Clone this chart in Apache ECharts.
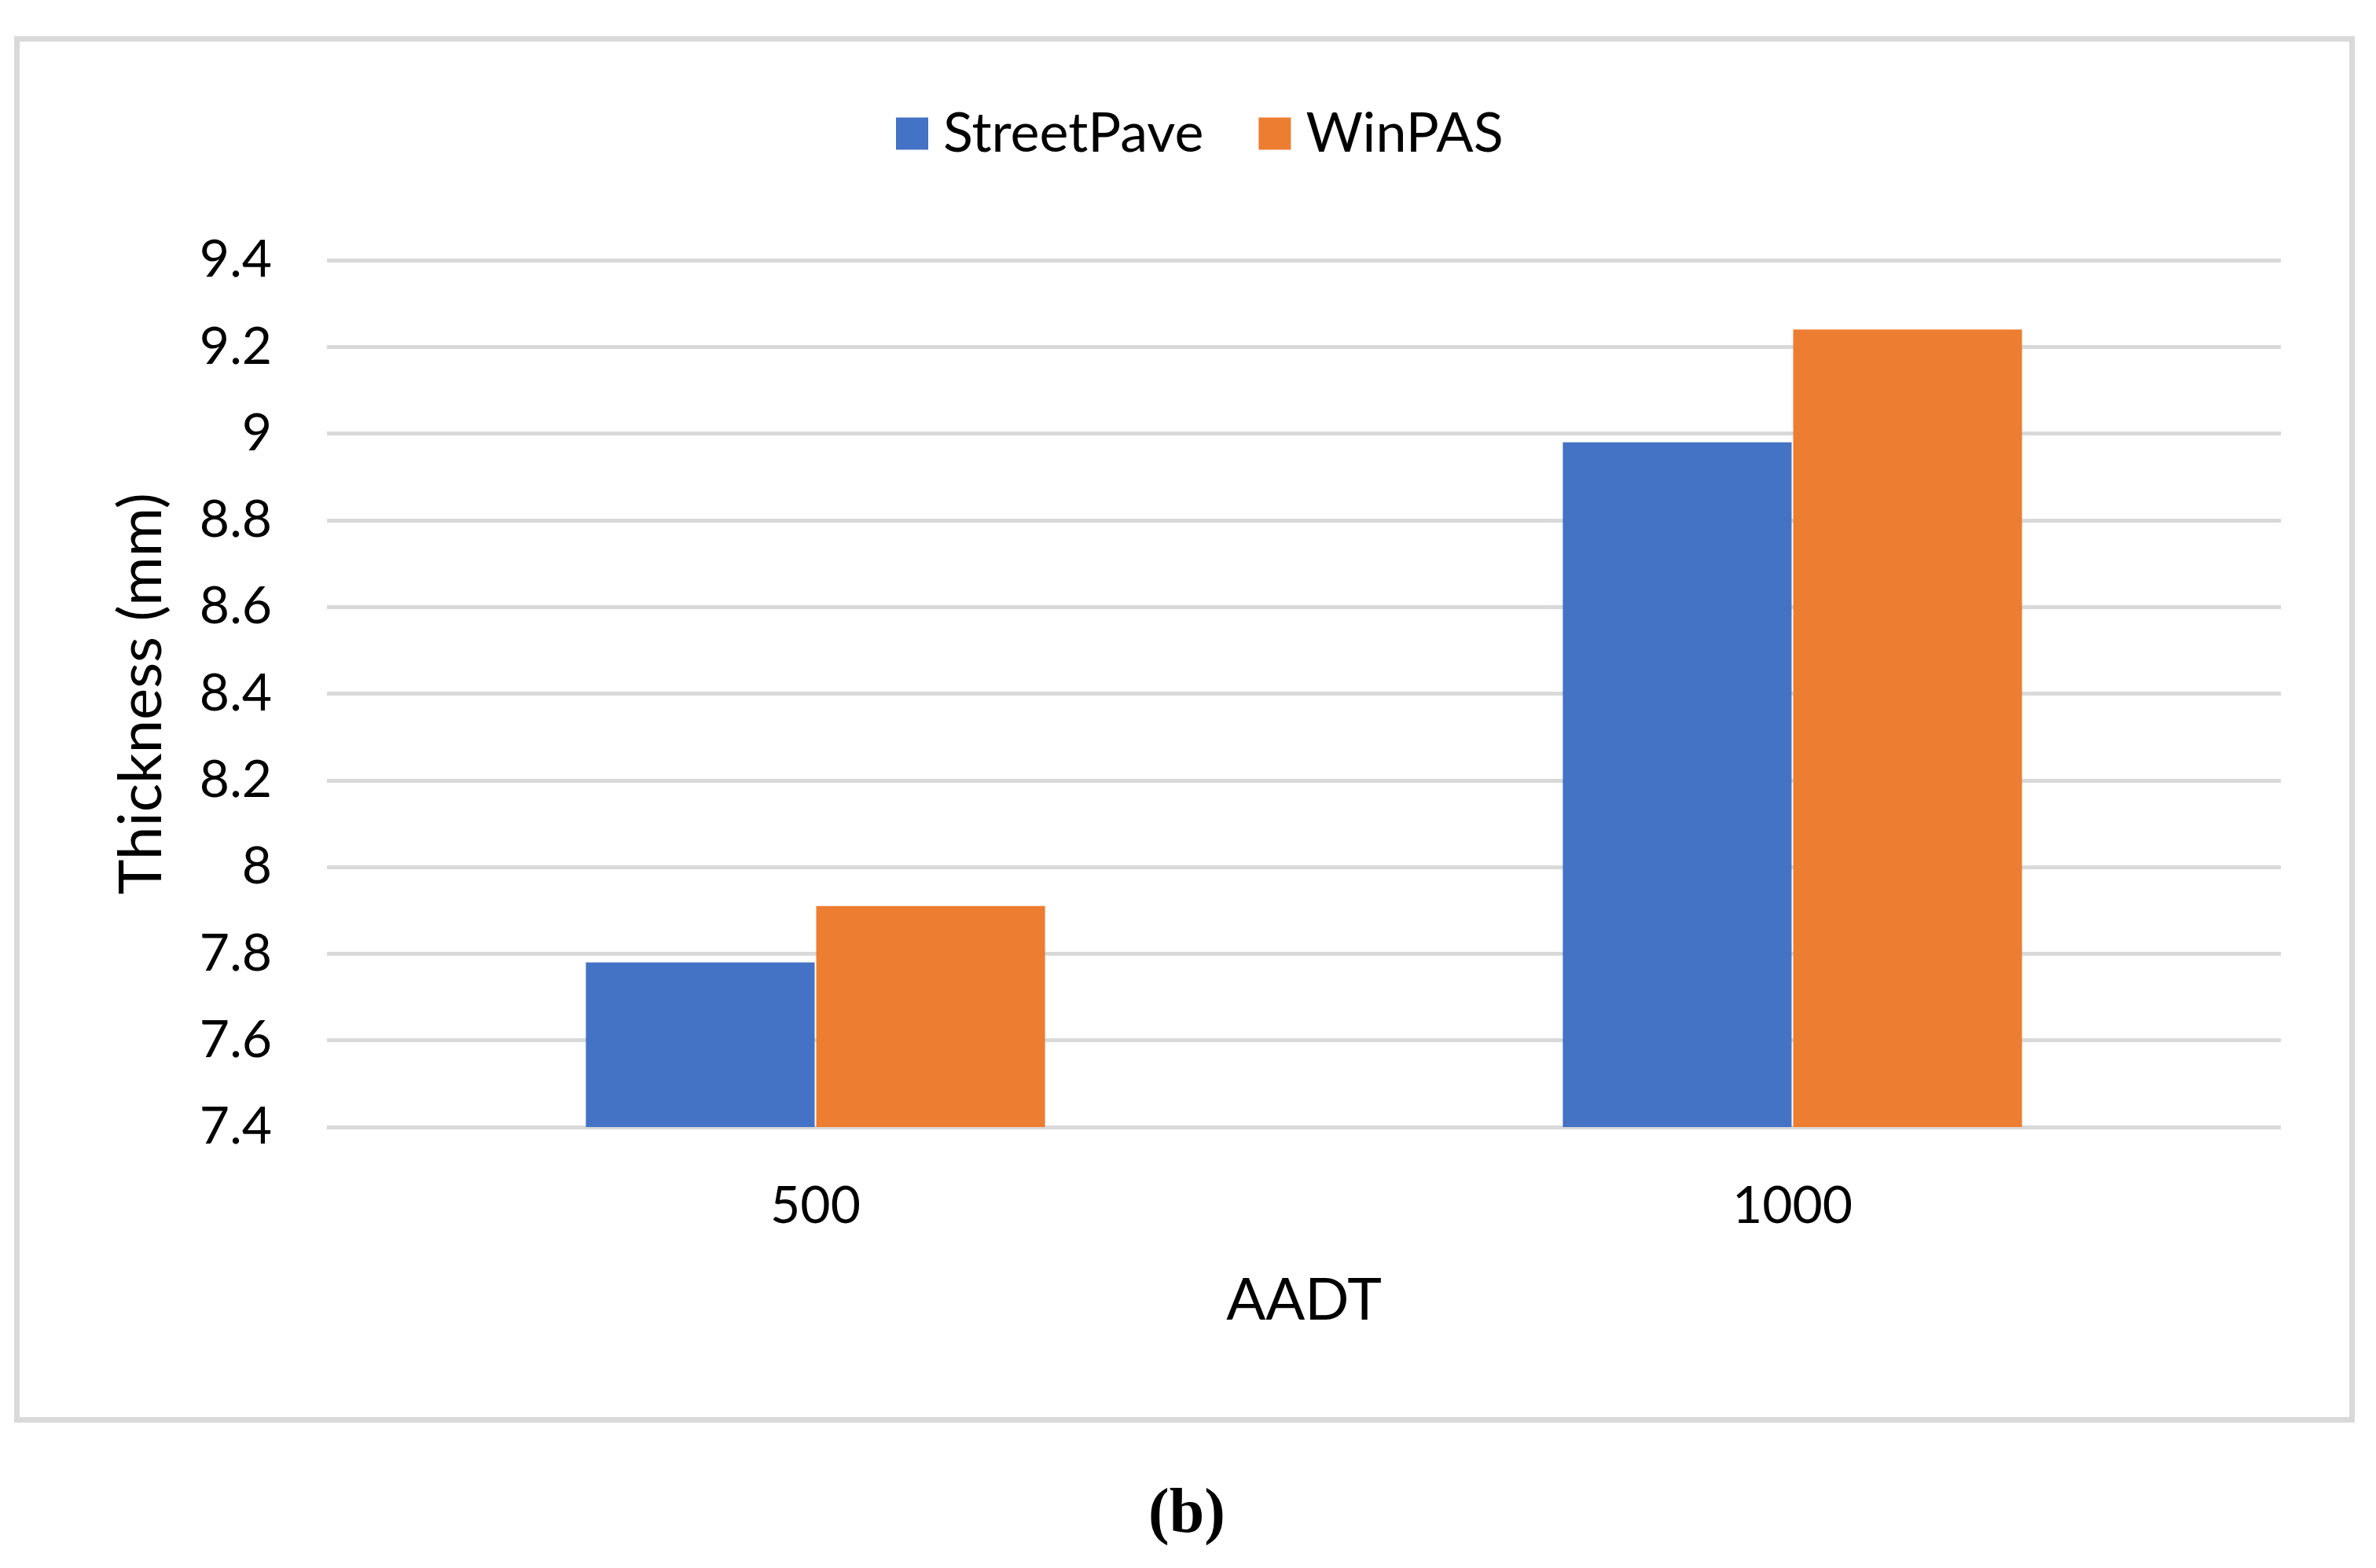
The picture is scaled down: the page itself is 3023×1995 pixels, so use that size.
<!DOCTYPE html>
<html>
<head>
<meta charset="utf-8">
<script src="https://cdn.jsdelivr.net/npm/echarts@6/dist/echarts.min.js"></script>
<style>
html,body{margin:0;padding:0;background:#fff;}
#chart{width:3023px;height:1995px;}
</style>
</head>
<body>
<div id="chart"></div>
<script>
const categories = ['500', '1000'];
const streetPave = [7.78, 8.98];
const winPAS = [7.91, 9.24];
const seriesNames = ['StreetPave', 'WinPAS'];
const yMin = 7.4, yMax = 9.4, yStep = 0.2;
const xTitle = 'AADT';
const yTitle = 'Thickness (mm)';
const caption = '(b)';

const FONT = 'Lato';
const chart = echarts.init(document.getElementById('chart'), null, {renderer: 'canvas'});
chart.setOption({
  backgroundColor: '#ffffff',
  animation: false,
  textStyle: {fontFamily: FONT, color: '#000'},
  legend: {
    top: 135,
    left: 1140,
    padding: 0,
    itemWidth: 41,
    itemHeight: 41,
    itemGap: 70,
    icon: 'rect',
    textStyle: {fontFamily: FONT, fontSize: 70, color: '#000', padding: [0, 0, 0, 14]},
    data: seriesNames
  },
  grid: {left: 416, right: 121, top: 331, bottom: 561, containLabel: false},
  xAxis: {
    type: 'category',
    data: categories,
    name: xTitle,
    nameLocation: 'middle',
    nameGap: 184,
    nameTextStyle: {fontFamily: FONT, fontSize: 74, color: '#000'},
    axisLine: {show: false},
    axisTick: {show: false},
    axisLabel: {fontFamily: FONT, fontSize: 66, color: '#000', margin: 68}
  },
  yAxis: {
    type: 'value',
    min: yMin,
    max: yMax,
    interval: yStep,
    name: yTitle,
    nameLocation: 'middle',
    nameRotate: 90,
    nameGap: 198,
    nameTextStyle: {fontFamily: FONT, fontSize: 76, color: '#000'},
    axisLine: {show: false},
    axisTick: {show: false},
    axisLabel: {fontFamily: FONT, fontSize: 66, color: '#000', margin: 70,
      formatter: v => String(+v.toFixed(1))},
    splitLine: {lineStyle: {color: '#d9d9d9', width: 5}}
  },
  series: [
    {name: seriesNames[0], type: 'bar', data: streetPave, barGap: '0.7%', barCategoryGap: '53%',
     itemStyle: {color: '#4472C4'}},
    {name: seriesNames[1], type: 'bar', data: winPAS, barGap: '0.7%', barCategoryGap: '53%',
     itemStyle: {color: '#ED7D31'}}
  ],
  graphic: [
    {type: 'rect', shape: {x: 21.5, y: 49.5, width: 2971, height: 1757},
     style: {fill: 'none', stroke: '#d9d9d9', lineWidth: 7}, z: -1},
    {type: 'text', x: 1510, y: 1928,
     style: {text: caption, font: 'bold 80px "Liberation Serif"', fill: '#000',
             textAlign: 'center', textVerticalAlign: 'middle'}}
  ]
});
</script>
</body>
</html>
